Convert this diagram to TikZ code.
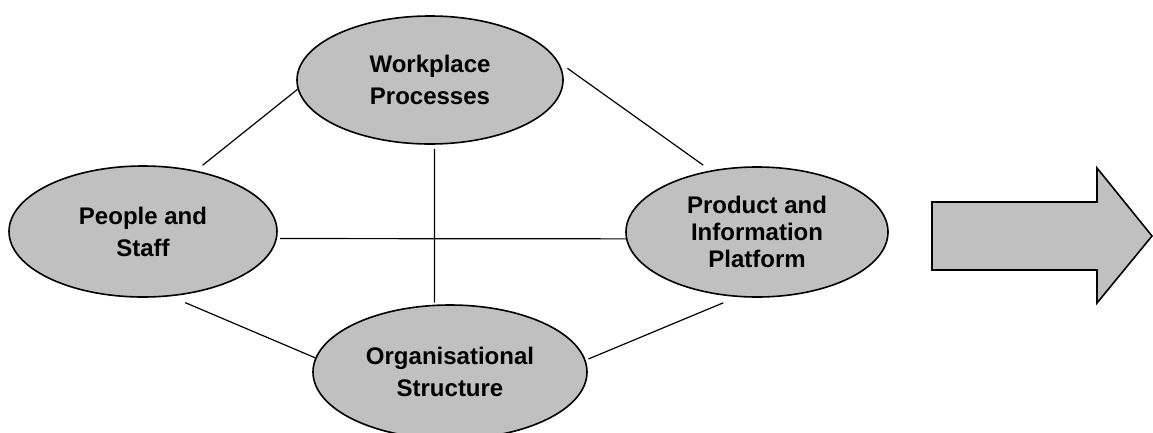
\documentclass[tikz,border=0pt]{standalone}
\usepackage{fontspec}
\setmainfont{Liberation Sans}
\usetikzlibrary{shapes.geometric}
\definecolor{bubblegray}{HTML}{C0C0C0}

\begin{document}
\begin{tikzpicture}[x=1pt, y=1pt,
        bubble/.style={ellipse, draw, fill=bubblegray, line width=1.6pt, inner sep=0pt, align=center,
            font=\bfseries\fontsize{24}{32}\selectfont},
        link/.style={line width=1.2pt}]
        \useasboundingbox (0,0) rectangle (1153,-432);

        % Nodes
        \draw (143,-231.5) node[bubble, minimum width=268, minimum height=131] (people) {People and\\Staff};
        \draw (430,-80)    node[bubble, minimum width=266, minimum height=128] (work) {Workplace\\Processes};
        \draw (757,-232)   node[bubble, minimum width=262, minimum height=130,
            font=\bfseries\fontsize{24}{27}\selectfont] (platform) {Product and\\Information\\Platform};
        \draw (450,-372)   node[bubble, minimum width=274, minimum height=134] (org) {Organisational\\Structure};

        % Links between the four areas
        \draw[link, shorten <=8.5pt] (people.49) -- (work.184);
        \draw[link, shorten <=11pt, shorten >=9pt] (work.8) -- (platform.127.5);
        \draw[link, shorten <=4pt, shorten >=2pt] (work.-86) -- (org.103);
        \draw[link, shorten <=3pt] (people.-3) -- (platform.183);
        \draw[link, shorten <=16pt] (people.-67) -- (org.174);
        \draw[link, shorten <=3pt, shorten >=15pt] (org.5.5) -- (platform.-107);

        % Block arrow on the right
        \draw[line width=1.6pt, fill=bubblegray, line join=miter]
            (932,-202) -- (1097,-202) -- (1097,-168) -- (1152,-236) -- (1097,-303) -- (1097,-270) -- (932,-270) -- cycle;
    \end{tikzpicture}
\end{document}
